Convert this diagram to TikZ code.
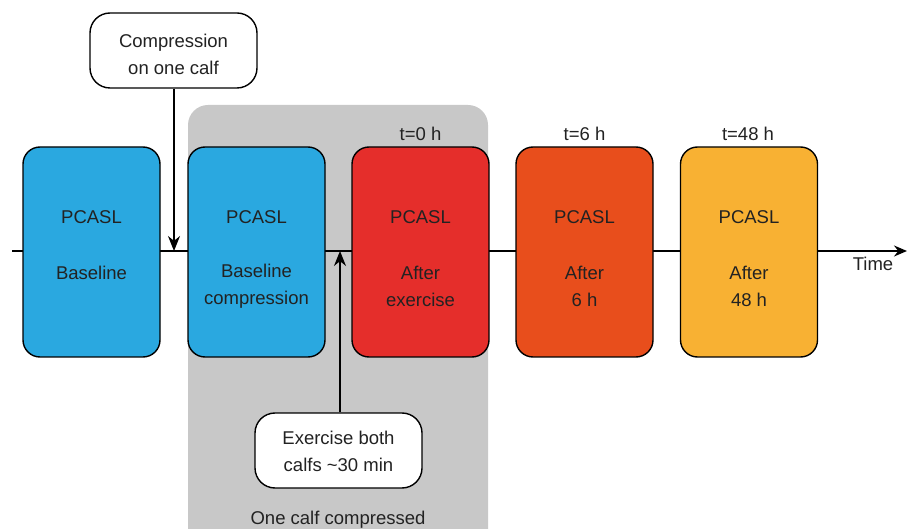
\documentclass[tikz,border=0pt]{standalone}
\usepackage{fontspec}
\setmainfont{Liberation Sans}
\usetikzlibrary{arrows.meta}
\definecolor{cblue}{HTML}{2AA8E0}
\definecolor{cred}{HTML}{E52E2B}
\definecolor{corange}{HTML}{E84E1C}
\definecolor{cyellow}{HTML}{F8B133}
\definecolor{cgray}{HTML}{C8C8C8}
\definecolor{ctext}{HTML}{222222}
\begin{document}
\begin{tikzpicture}[x=1pt,y=-1pt,
  every node/.style={font=\fontsize{18.5}{22}\selectfont, text=ctext},
  scanbox/.style={draw=black, line width=1.4pt, rounded corners=17pt, minimum width=137pt, minimum height=210pt, inner sep=0pt},
  notebox/.style={draw=black, line width=1.4pt, rounded corners=20pt, fill=white, minimum width=167pt, minimum height=75pt, align=center, inner sep=0pt},
  lbl/.style={inner sep=0pt, align=center},
  tip/.style={-{Stealth[length=15pt,width=12pt]}, line width=1.4pt}
]
\useasboundingbox (0,0) rectangle (908,529);
\clip (0,0) rectangle (908,529);
% gray region
\node[fill=cgray, rounded corners=20pt, minimum width=300pt, minimum height=460pt, inner sep=0pt] (grp) at (338,335) {};
% timeline
\coordinate (tlstart) at (12,251);
\coordinate (tlend) at (907,251);
\draw[line width=1.4pt, -{Stealth[length=13pt,width=11pt]}] (tlstart) -- (tlend);
% boxes
\node[scanbox, fill=cblue] (b1) at (91.5,252) {};
\node[scanbox, fill=cblue] (b2) at (256.5,252) {};
\node[scanbox, fill=cred] (b3) at (420.5,252) {};
\node[scanbox, fill=corange] (b4) at (584.5,252) {};
\node[scanbox, fill=cyellow] (b5) at (749,252) {};
% box texts
\node[lbl] (p1) at (91.5,217) {PCASL};
\node[lbl] (s1) at (91.5,273) {Baseline};
\node[lbl] (p2) at (256.5,217) {PCASL};
\node[lbl] (s2) at (256.5,286.5) {Baseline\\[5pt]compression};
\node[lbl] (p3) at (420.5,217) {PCASL};
\node[lbl] (s3) at (420.5,286.5) {After\\[5pt]exercise};
\node[lbl] (p4) at (584.5,217) {PCASL};
\node[lbl] (s4) at (584.5,286.5) {After\\[5pt]6 h};
\node[lbl] (p5) at (749,217) {PCASL};
\node[lbl] (s5) at (749,286.5) {After\\[5pt]48 h};
% time labels
\node[lbl] (t0) at (420.5,134) {t=0 h};
\node[lbl] (t6) at (584.5,134) {t=6 h};
\node[lbl] (t48) at (748,134) {t=48 h};
\node[lbl] (time) at (873,264) {Time};
\node[lbl] (gl) at (338,520) {One calf compressed};
% notes
\node[notebox] (comp) at (173.5,50.5) {};
\node[lbl] (compt) at (173.5,54.5) {Compression\\[5pt]on one calf};
\node[notebox] (ex) at (338.5,450.5) {};
\node[lbl] (ext) at (338.5,451) {Exercise both\\[5pt]calfs \textasciitilde30 min};
\coordinate (ca) at (174,251);
\coordinate (ea) at (340,251);
\draw[tip] (comp.south -| ca) -- (ca);
\draw[tip] (ex.north -| ea) -- (ea);
\end{tikzpicture}
\end{document}
